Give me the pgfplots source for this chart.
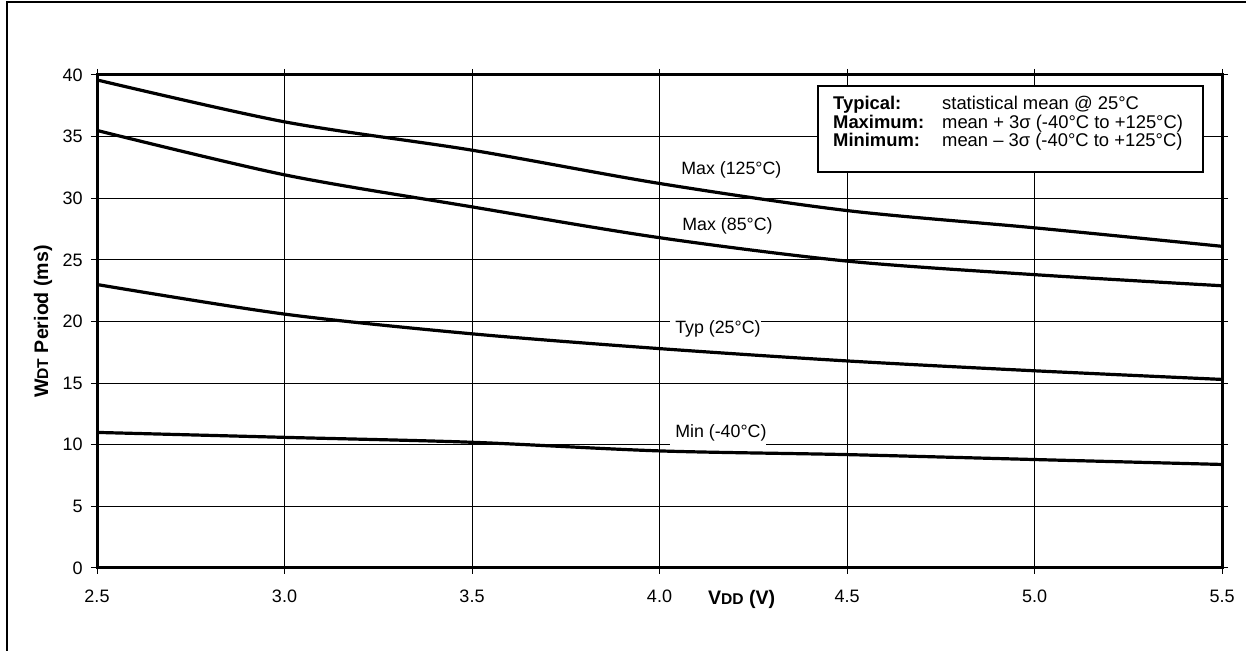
\documentclass[border=0pt]{standalone}
\usepackage{pgfplots}
\pgfplotsset{compat=1.18}
\usepackage{fontspec}
\setmainfont{Liberation Sans}
\begin{document}
\begin{tikzpicture}[x=1pt,y=1pt]
\useasboundingbox (0,0) rectangle (623,325.5);
\draw[line width=1pt] (3.35,0) -- (3.35,324.5) -- (623,324.5);
\begin{axis}[
  at={(48.5pt,41.5pt)}, anchor=south west,
  scale only axis, width=562.5pt, height=246.5pt,
  xmin=2.5, xmax=5.5, ymin=0, ymax=40,
  xtick={2.5,3.0,3.5,4.0,4.5,5.0,5.5},
  ytick={0,5,10,15,20,25,30,35,40},
  grid=major,
  major grid style={black, line width=0.5pt},
  axis line style={line width=1.5pt},
  tick align=outside,
  major tick length=3pt,
  tick style={black, line width=0.5pt},
  /pgf/number format/assume math mode=true,
  tick label style={font=\fontsize{9}{10.8}\selectfont},
  xticklabel style={/pgf/number format/fixed, /pgf/number format/fixed zerofill, /pgf/number format/precision=1, inner sep=0pt, yshift=-7.8pt},
  yticklabel style={inner sep=0pt, xshift=-4pt},
  xlabel={\textbf{V{\fontsize{7.8}{9}\selectfont DD} (V)}},
  xlabel style={at={(rel axis cs:0.573,0)}, anchor=center, yshift=-15.5pt, font=\fontsize{9.8}{11}\selectfont},
  ylabel={\textbf{W{\fontsize{7.8}{9}\selectfont DT} Period (ms)}},
  ylabel style={at={(rel axis cs:0,0.5)}, anchor=center, yshift=27pt, font=\fontsize{9.8}{11}\selectfont},
]
\begin{scope}[every node/.style={fill=white, inner xsep=0pt, inner ysep=3.5pt, anchor=west, xshift=-2.5pt, font=\fontsize{8.9}{10.5}\selectfont}]
\node at (axis cs:4.057,32.29) {\hspace{2.5pt}Max (125°C)\hspace{10pt}};
\node at (axis cs:4.060,27.75) {\hspace{2.5pt}Max (85°C)\hspace{10pt}};
\node at (axis cs:4.041,19.39) {\hspace{2.5pt}Typ (25°C)\hspace{10pt}};
\node at (axis cs:4.041,10.99) {\hspace{2.5pt}Min (-40°C)\hspace{10pt}};
\end{scope}
\addplot[black, line width=1.6pt, smooth] coordinates {(2.5,39.6)(3.0,36.2)(3.5,33.9)(4.0,31.2)(4.5,29.0)(5.0,27.6)(5.5,26.1)};
\addplot[black, line width=1.6pt, smooth] coordinates {(2.5,35.5)(3.0,31.9)(3.5,29.3)(4.0,26.8)(4.5,24.9)(5.0,23.8)(5.5,22.9)};
\addplot[black, line width=1.6pt, smooth] coordinates {(2.5,23.0)(3.0,20.6)(3.5,19.0)(4.0,17.8)(4.5,16.8)(5.0,16.0)(5.5,15.3)};
\addplot[black, line width=1.6pt, smooth] coordinates {(2.5,11.0)(3.0,10.6)(3.5,10.2)(4.0,9.5)(4.5,9.2)(5.0,8.8)(5.5,8.4)};
\node[draw, line width=1.25pt, fill=white, minimum width=192.5pt, minimum height=43pt, inner sep=0pt] at (axis cs:4.936,35.62) {};
\node[inner sep=0pt, yshift=2.5pt, xshift=-1.2pt, font=\fontsize{9.2}{8.35}\selectfont] at (axis cs:4.936,35.62) {\begin{tabular}{@{}p{54.5pt}@{}l@{}}\textbf{Typical:} & statistical mean @ 25°C\\ \textbf{Maximum:} & mean + 3σ (-40°C to +125°C)\\ \textbf{Minimum:} & mean – 3σ (-40°C to +125°C)\end{tabular}};
\end{axis}
\end{tikzpicture}
\end{document}
